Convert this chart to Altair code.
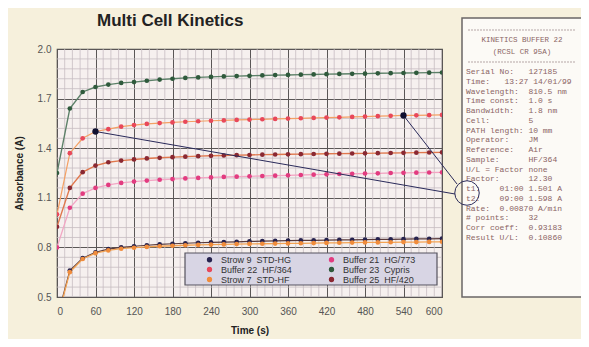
import altair as alt
import pandas as pd

NB = "\u00a0"

TIME = [0, 20, 40, 60, 80, 100, 120, 140, 160, 180, 200, 220, 240, 260, 280, 300,
        320, 340, 360, 380, 400, 420, 440, 460, 480, 500, 520, 540, 560, 580, 600]

# legend is laid out column by column: first column, then second column
SERIES = ["Strow 9  STD-HG", "Buffer 22  HF/364", "Strow 7  STD-HF",
          "Buffer 21  HG/773", "Buffer 23  Cypris", "Buffer 25  HF/420"]

STROW9 = [0.37, 0.66, 0.735, 0.77, 0.79, 0.80, 0.807, 0.813, 0.818, 0.822, 0.825, 0.828, 0.830,
          0.832, 0.834, 0.836, 0.838, 0.839, 0.841, 0.842, 0.843, 0.844, 0.845, 0.846, 0.847,
          0.848, 0.849, 0.850, 0.851, 0.852, 0.853]
BUF22 = [1.00, 1.37, 1.46, 1.501, 1.515, 1.53, 1.54, 1.547, 1.552, 1.556, 1.560, 1.563, 1.566,
         1.568, 1.571, 1.573, 1.575, 1.577, 1.579, 1.581, 1.583, 1.585, 1.587, 1.589, 1.591,
         1.594, 1.596, 1.598, 1.599, 1.600, 1.601]
STROW7 = [0.36, 0.65, 0.73, 0.765, 0.782, 0.792, 0.798, 0.803, 0.807, 0.810, 0.813, 0.815, 0.817,
          0.818, 0.820, 0.821, 0.822, 0.823, 0.824, 0.825, 0.826, 0.827, 0.828, 0.829, 0.830,
          0.830, 0.831, 0.832, 0.832, 0.833, 0.834]
BUF21 = [0.80, 1.04, 1.125, 1.16, 1.178, 1.19, 1.198, 1.204, 1.209, 1.213, 1.217, 1.220, 1.223,
         1.226, 1.228, 1.230, 1.232, 1.234, 1.236, 1.238, 1.240, 1.242, 1.244, 1.245, 1.247,
         1.248, 1.250, 1.251, 1.252, 1.253, 1.254]
BUF23 = [1.25, 1.64, 1.74, 1.77, 1.785, 1.795, 1.80, 1.808, 1.815, 1.82, 1.825, 1.828, 1.831,
         1.834, 1.836, 1.838, 1.840, 1.842, 1.843, 1.845, 1.846, 1.848, 1.849, 1.850, 1.851,
         1.853, 1.854, 1.855, 1.856, 1.857, 1.858]
BUF25 = [0.925, 1.16, 1.255, 1.295, 1.315, 1.325, 1.332, 1.338, 1.342, 1.346, 1.349, 1.352, 1.354,
         1.356, 1.358, 1.359, 1.361, 1.362, 1.363, 1.364, 1.365, 1.366, 1.367, 1.368, 1.369,
         1.370, 1.371, 1.372, 1.373, 1.374, 1.375]
VALUES = [STROW9, BUF22, STROW7, BUF21, BUF23, BUF25]

POINT_COLORS = ["#26224e", "#e8485a", "#f08c3c", "#e23c80", "#2f5a3c", "#8a2832"]
LINE_COLORS = ["#5a3a3a", "#f4a064", "#f4a454", "#f2a6c4", "#5c8068", "#e0784e"]
LINE_WIDTHS = [1.2, 1.4, 3.2, 1.2, 1.3, 1.4]

X_TICKS = [0, 60, 120, 180, 240, 300, 360, 420, 480, 540, 600]
Y_TICKS = [0.5, 0.8, 1.1, 1.4, 1.7, 2.0]
X_MINOR = [t for t in range(12, 600, 12) if t % 60 != 0]
Y_MINOR = [round(0.5 + 0.06 * i, 2) for i in range(1, 25) if i % 5 != 0]

MARK_T = [60, 540]
MARK_V = [1.501, 1.598]

TITLE = "Multi Cell Kinetics"
HEADER = ["KINETICS BUFFER 22", "(RCSL CR 95A)"]
PANEL_LINES = [
    "Serial No:   127185",
    "Time:   13:27 14/01/99",
    "Wavelength:  810.5 nm",
    "Time const:  1.0 s",
    "Bandwidth:   1.8 nm",
    "Cell:        5",
    "PATH length: 10 mm",
    "Operator:    JM",
    "Reference:   Air",
    "Sample:      HF/364",
    "U/L = Factor none",
    "Factor:      12.30",
    "t1:    01:00 1.501 A",
    "t2:    09:00 1.598 A",
    "Rate:  0.00870 A/min",
    "# points:    32",
    "Corr coeff:  0.93183",
    "Result U/L:  0.10860",
]
PANEL_LINES = [s.replace(" ", NB) for s in PANEL_LINES]
LEGEND_LABELS = {s: s.replace("  ", NB + NB) for s in SERIES}

rows = []
for name, vals in zip(SERIES, VALUES):
    for t, v in zip(TIME, vals):
        rows.append({"t": t, "v": v, "series": LEGEND_LABELS[name]})
df = pd.DataFrame(rows)
series_domain = [LEGEND_LABELS[s] for s in SERIES]

FONT = "Liberation Sans"
x_axis = alt.Axis(values=X_TICKS, grid=True, gridColor="#5a5656", gridWidth=1, ticks=False,
                  domain=False, labelPadding=9, labelFontSize=10, labelColor="#555",
                  labelFont=FONT, titleFont=FONT, titleFontSize=10, titleFontWeight="bold",
                  titleColor="#222", titlePadding=9)
y_axis = alt.Axis(values=Y_TICKS, format=".1f", grid=True, gridColor="#5a5656", gridWidth=1,
                  ticks=False, domain=False, labelPadding=6, labelFontSize=10, labelColor="#555",
                  labelFont=FONT, titleFont=FONT, titleFontSize=10, titleFontWeight="bold",
                  titleColor="#222", titlePadding=13)
x_scale = alt.Scale(domain=[0, 600], nice=False, zero=False)
y_scale = alt.Scale(domain=[0.5, 2.0], nice=False, zero=False)
X = alt.X("t:Q", scale=x_scale, axis=x_axis, title="Time (s)")
Y = alt.Y("v:Q", scale=y_scale, axis=y_axis, title="Absorbance (A)")

one = pd.DataFrame({"k": [0]})

minor_x = alt.Chart(pd.DataFrame({"t": X_MINOR})).mark_rule(
    color="#c6bcc2", strokeWidth=0.8).encode(x=X)
minor_y = alt.Chart(pd.DataFrame({"v": Y_MINOR})).mark_rule(
    color="#c6bcc2", strokeWidth=0.8).encode(y=Y)

legend_box = alt.Chart(one).mark_rect(fill="#d8d5e4", stroke="#55535e", strokeWidth=1.2).encode(
    x=alt.value(128), x2=alt.value(380), y=alt.value(204), y2=alt.value(236))

lines = alt.Chart(df).mark_line(clip=True).encode(
    x=X, y=Y,
    color=alt.Color("series:N", scale=alt.Scale(domain=series_domain, range=LINE_COLORS), legend=None),
    strokeWidth=alt.StrokeWidth("series:N", scale=alt.Scale(domain=series_domain, range=LINE_WIDTHS), legend=None),
)
points = alt.Chart(df).mark_circle(clip=True, size=22, opacity=1).encode(
    x=X, y=Y,
    color=alt.Color("series:N", scale=alt.Scale(domain=series_domain, range=POINT_COLORS),
                    legend=alt.Legend(orient="none", legendX=148, legendY=206, columns=2,
                                      columnPadding=35, rowPadding=0, clipHeight=9,
                                      labelFontSize=9, labelFont=FONT, labelColor="#333",
                                      symbolSize=28, symbolType="circle", title=None,
                                      padding=0, labelOffset=7)),
)

mk = pd.DataFrame({"t": MARK_T, "v": MARK_V})
ann1 = alt.Chart(mk.iloc[[0]]).mark_rule(color="#2a2a5a", strokeWidth=1, clip=False).encode(
    x=X, y=Y, x2=alt.value(398), y2=alt.value(145))
ann2 = alt.Chart(mk.iloc[[1]]).mark_rule(color="#2a2a5a", strokeWidth=1, clip=False).encode(
    x=X, y=Y, x2=alt.value(400), y2=alt.value(135))
mk_dots = alt.Chart(mk).mark_circle(size=40, color="#101030", opacity=1).encode(x=X, y=Y)

title = alt.Chart(one).mark_text(align="left", baseline="middle", font=FONT, fontSize=17,
                                 fontWeight="bold", color="#222").encode(
    x=alt.value(40), y=alt.value(-28), text=alt.value(TITLE))

panel = alt.Chart(one).mark_rect(fill="#fcfaf6", stroke="#6a6666", strokeWidth=1.5).encode(
    x=alt.value(405), x2=alt.value(525), y=alt.value(-31), y2=alt.value(248))
rule_top = alt.Chart(one).mark_rule(color="#b5a6a6", strokeDash=[2, 1]).encode(
    x=alt.value(411), x2=alt.value(518), y=alt.value(-19))
rule_bot = alt.Chart(one).mark_rule(color="#b5a6a6", strokeDash=[2, 1]).encode(
    x=alt.value(411), x2=alt.value(518), y=alt.value(13))
header = alt.Chart(one).mark_text(align="center", baseline="top", font="Liberation Mono",
                                  fontSize=7.5, lineHeight=12, color="#8b6464").encode(
    x=alt.value(465), y=alt.value(-13), text=alt.value(HEADER))
body = alt.Chart(one).mark_text(align="left", baseline="top", font="Liberation Mono",
                                fontSize=8, lineHeight=9.76, color="#8b6464").encode(
    x=alt.value(409), y=alt.value(19), text=alt.value(PANEL_LINES))
ring = alt.Chart(one).mark_point(shape="circle", size=600, filled=False, color="#2a2a5a",
                                 strokeWidth=1, opacity=1).encode(
    x=alt.value(410), y=alt.value(144))

chart = alt.layer(
    minor_x, minor_y, legend_box, lines, points, ann1, ann2, mk_dots, title,
    panel, rule_top, rule_bot, header, body, ring
).resolve_scale(color="independent", strokeWidth="independent").properties(
    width=385, height=248,
    autosize=alt.AutoSizeParams(type="none"),
    padding={"left": 49, "top": 41, "right": 139, "bottom": 42},
    background="#f6f0dc",
).configure_view(fill="#f6f0ef", stroke="#4a4a4a", strokeWidth=1.2)

chart.save("out.html", embed_options={"renderer": "svg", "actions": False})
